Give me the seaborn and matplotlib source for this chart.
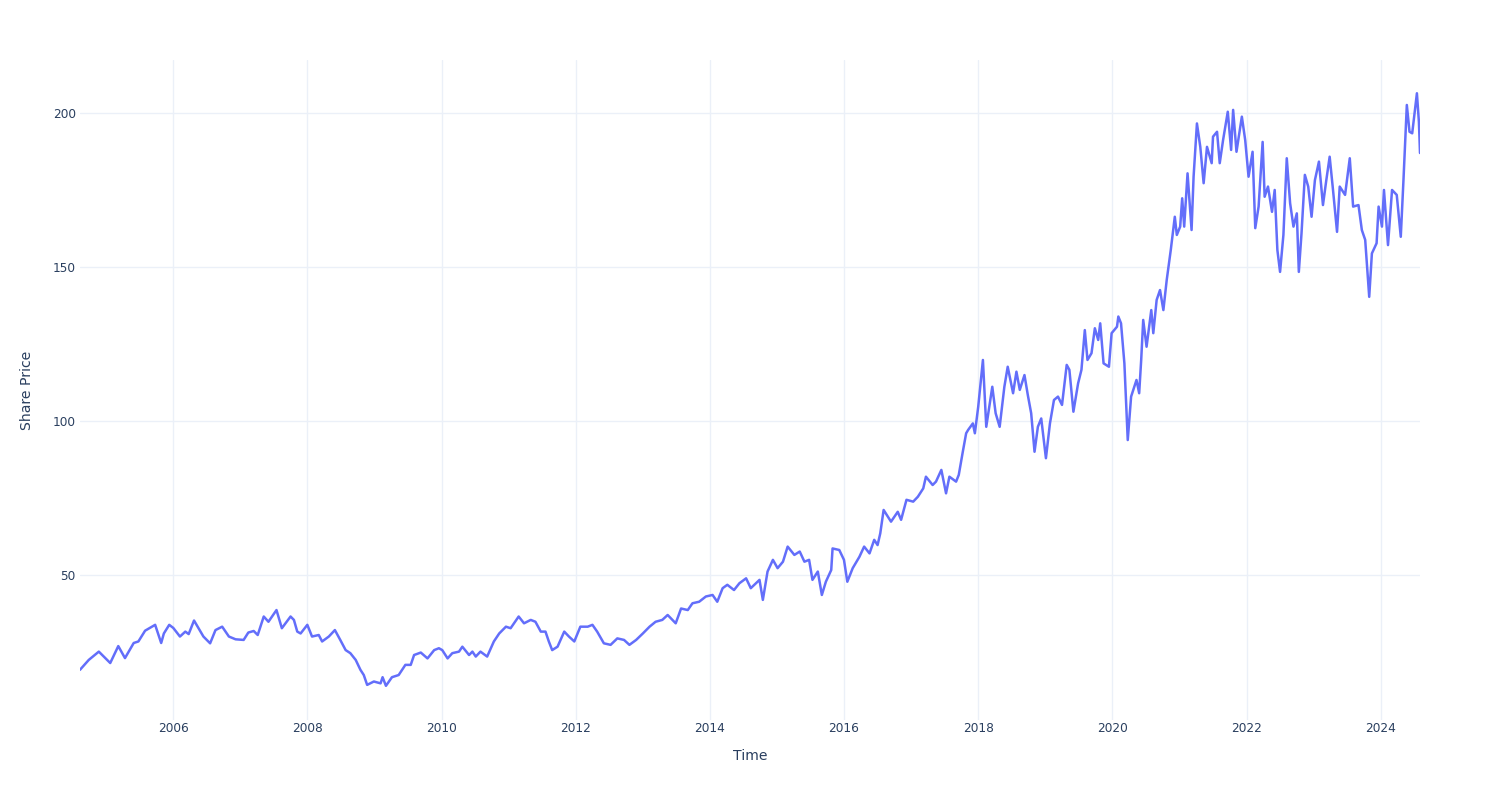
import numpy as np
import pandas as pd
import matplotlib
matplotlib.use("Agg")
import matplotlib.pyplot as plt
import seaborn as sns

# ---- data ----
time_years = [
    2004.61, 2004.74, 2004.89, 2005.06, 2005.18, 2005.28, 2005.41, 2005.48, 2005.58, 2005.73,
    2005.82, 2005.86, 2005.94, 2006.00, 2006.10, 2006.18, 2006.23, 2006.31, 2006.45, 2006.55,
    2006.63, 2006.73, 2006.83, 2006.93, 2007.05, 2007.12, 2007.20, 2007.26, 2007.35, 2007.42,
    2007.54, 2007.62, 2007.75, 2007.80, 2007.85, 2007.90, 2008.00,
    2008.07, 2008.17, 2008.22, 2008.32, 2008.41, 2008.49, 2008.57, 2008.64, 2008.72, 2008.79,
    2008.84, 2008.89, 2008.99, 2009.09, 2009.12, 2009.17, 2009.26, 2009.36, 2009.46, 2009.54,
    2009.59, 2009.69, 2009.79, 2009.89, 2009.96, 2010.01, 2010.09, 2010.16, 2010.26, 2010.31,
    2010.41, 2010.46, 2010.51, 2010.58, 2010.68, 2010.78, 2010.86, 2010.96, 2011.03, 2011.15,
    2011.23,
    2011.33, 2011.40, 2011.48, 2011.55, 2011.60, 2011.65, 2011.73, 2011.83, 2011.90, 2011.98,
    2012.07, 2012.18, 2012.25, 2012.32, 2012.42, 2012.52, 2012.62, 2012.72, 2012.80, 2012.90,
    2013.00, 2013.10, 2013.19, 2013.29, 2013.37, 2013.49, 2013.57, 2013.67, 2013.74, 2013.84,
    2013.94, 2014.04, 2014.11, 2014.19, 2014.26, 2014.36, 2014.44, 2014.54,
    2014.61, 2014.74, 2014.79, 2014.86, 2014.94, 2015.01, 2015.09, 2015.16, 2015.26, 2015.34,
    2015.41, 2015.48, 2015.53, 2015.61, 2015.67, 2015.73, 2015.81, 2015.83, 2015.93, 2016.00,
    2016.05, 2016.13, 2016.23, 2016.30, 2016.38, 2016.45, 2016.50, 2016.54, 2016.59, 2016.70,
    2016.80, 2016.85, 2016.93, 2017.03, 2017.10, 2017.18, 2017.22, 2017.32, 2017.37, 2017.45,
    2017.52, 2017.57, 2017.67, 2017.71, 2017.77, 2017.82,
    2017.85, 2017.92, 2017.95, 2018.00, 2018.07, 2018.12, 2018.21, 2018.26, 2018.32, 2018.39,
    2018.44, 2018.52, 2018.57, 2018.62, 2018.69, 2018.74, 2018.79, 2018.84, 2018.89, 2018.94,
    2019.01, 2019.07, 2019.13, 2019.19, 2019.25, 2019.32, 2019.36, 2019.42, 2019.49, 2019.54,
    2019.59, 2019.63, 2019.69, 2019.74, 2019.79, 2019.82, 2019.87, 2019.95, 2019.99, 2020.07,
    2020.09, 2020.13, 2020.18, 2020.23, 2020.28, 2020.36, 2020.40, 2020.43, 2020.46, 2020.51,
    2020.58, 2020.61, 2020.66, 2020.71, 2020.76, 2020.81, 2020.87,
    2020.93, 2020.96, 2021.01, 2021.04, 2021.07, 2021.12, 2021.18, 2021.21, 2021.26, 2021.31,
    2021.36, 2021.41, 2021.48, 2021.50, 2021.56, 2021.60, 2021.65, 2021.72, 2021.77, 2021.80,
    2021.85, 2021.93, 2021.98, 2022.03, 2022.09, 2022.13, 2022.18, 2022.24, 2022.27, 2022.32,
    2022.38, 2022.42, 2022.46, 2022.50, 2022.55, 2022.60, 2022.65, 2022.70, 2022.75, 2022.78,
    2022.82, 2022.87, 2022.92, 2022.97, 2023.02, 2023.08, 2023.14, 2023.19, 2023.24, 2023.29,
    2023.35, 2023.39, 2023.47, 2023.54, 2023.59, 2023.67, 2023.72, 2023.77, 2023.83, 2023.87,
    2023.94, 2023.97, 2024.02, 2024.05, 2024.11, 2024.17, 2024.24, 2024.30, 2024.34, 2024.39,
    2024.43, 2024.47, 2024.54, 2024.57, 2024.586,
]

share_price = [
    19.2, 22.4, 25.1, 21.4, 26.9, 23.0, 27.9, 28.4, 31.9, 33.8,
    27.9, 31.0, 33.8, 32.8, 30.0, 31.6, 30.8, 35.2, 30.0, 27.8,
    32.1, 33.2, 30.0, 29.1, 28.9, 31.3, 31.8, 30.5, 36.5, 34.8,
    38.6, 32.7, 36.5, 35.4, 31.6, 31.0, 33.8,
    30.0, 30.5, 28.4, 30.0, 32.1, 28.9, 25.6, 24.6, 22.4, 19.2,
    17.5, 14.3, 15.4, 14.8, 16.8, 14.0, 16.8, 17.5, 20.8, 20.8,
    24.0, 24.8, 22.9, 25.6, 26.2, 25.6, 22.9, 24.6, 25.1, 26.7,
    24.0, 25.1, 23.5, 25.1, 23.5, 28.4, 31.0, 33.2, 32.7, 36.5,
    34.3,
    35.4, 34.8, 31.6, 31.6, 28.4, 25.6, 26.7, 31.6, 30.0, 28.4,
    33.2, 33.2, 33.8, 31.6, 27.8, 27.3, 29.4, 28.9, 27.3, 28.9,
    31.0, 33.2, 34.8, 35.4, 37.0, 34.3, 39.1, 38.6, 40.8, 41.3,
    43.0, 43.5, 41.3, 45.7, 46.8, 45.1, 47.3, 48.9,
    45.7, 48.4, 41.9, 51.1, 54.9, 52.2, 54.3, 59.2, 56.5, 57.6,
    54.3, 54.9, 48.4, 51.1, 43.5, 47.8, 51.6, 58.6, 58.1, 54.9,
    47.8, 52.2, 55.9, 59.2, 57.0, 61.4, 59.7, 63.5, 71.1, 67.3,
    70.5, 67.9, 74.4, 73.8, 75.4, 78.1, 81.9, 79.2, 80.3, 84.1,
    76.5, 81.9, 80.3, 82.5, 90.0, 96.0,
    97.1, 99.2, 96.0, 104.6, 119.8, 98.1, 111.1, 102.5, 98.1, 111.1,
    117.6, 109.0, 116.0, 110.1, 114.9, 108.4, 102.5, 90.0, 98.1, 100.8,
    87.9, 99.2, 106.8, 107.9, 105.2, 118.2, 116.6, 103.0, 112.2, 116.6,
    129.5, 119.8, 122.0, 130.1, 126.3, 131.7, 118.7, 117.6, 128.5, 130.6,
    133.9, 131.7, 118.7, 93.8, 107.9, 113.3, 109.0, 119.8, 132.8, 124.1,
    136.0, 128.5, 139.3, 142.5, 136.0, 145.8, 155.5,
    166.3, 160.4, 163.1, 172.3, 163.1, 180.4, 162.0, 179.3, 196.6, 189.0,
    177.2, 189.0, 183.7, 192.3, 193.9, 183.7, 191.2, 200.4, 188.0, 201.0,
    187.4, 198.8, 191.2, 179.3, 187.4, 162.6, 169.6, 190.6, 172.8, 176.1,
    167.9, 175.0, 155.5, 148.4, 160.4, 185.3, 170.7, 163.1, 167.4, 148.4,
    160.9, 179.9, 176.1, 166.3, 178.2, 184.2, 170.1, 178.2, 185.8, 175.0,
    161.4, 176.1, 173.4, 185.3, 169.6, 170.1, 162.0, 158.8, 140.3, 154.4,
    157.7, 169.6, 163.1, 175.0, 157.1, 175.0, 173.4, 159.8, 178.2, 202.6,
    193.9, 193.4, 206.4, 197.0, 187.0,
]

tick_years = [2006, 2008, 2010, 2012, 2014, 2016, 2018, 2020, 2022, 2024]
y_ticks = [50, 100, 150, 200]
x_title = "Time"
y_title = "Share Price"


def year_to_timestamp(d):
    y = int(np.floor(d))
    start = pd.Timestamp(year=y, month=1, day=1)
    end = pd.Timestamp(year=y + 1, month=1, day=1)
    return start + (end - start) * (d - y)


df = pd.DataFrame({
    "Time": [year_to_timestamp(d) for d in time_years],
    "Share Price": share_price,
})

# ---- style (plotly_white look) ----
sns.set_theme(style="white")
plt.rcParams["font.family"] = ["DejaVu Sans"]
text_color = "#2a3f5f"
grid_color = "#EBF0F8"

fig = plt.figure(figsize=(15, 8), dpi=100)
ax = fig.add_axes([80 / 1500, 80 / 800, 1340 / 1500, 660 / 800])

sns.lineplot(data=df, x="Time", y="Share Price", ax=ax, color="#636EFA",
             linewidth=1.8, zorder=3)

ax.set_xlim(df["Time"].min(), df["Time"].max())
ax.set_ylim(2.9, 217.2)

ax.set_xticks([pd.Timestamp(year=y, month=1, day=1) for y in tick_years])
ax.set_xticklabels([str(y) for y in tick_years])
ax.set_yticks(y_ticks)
ax.set_yticklabels([str(v) for v in y_ticks])

ax.grid(True, color=grid_color, linewidth=1, zorder=0)
ax.set_axisbelow(True)
for s in ax.spines.values():
    s.set_visible(False)

ax.tick_params(axis="both", length=0, labelsize=8.7, labelcolor=text_color)
ax.tick_params(axis="y", pad=3)
ax.tick_params(axis="x", pad=1.5)

ax.set_xlabel(x_title, fontsize=10.1, color=text_color)
ax.set_ylabel(y_title, fontsize=10.1, color=text_color)
ax.xaxis.label.set_va("center")
ax.yaxis.label.set_va("center")
ax.xaxis.set_label_coords(0.5, -(756 - 720) / 660)
ax.yaxis.set_label_coords((27 - 80) / 1340, 0.5)

fig.savefig("out.png", dpi=100, facecolor="white")
